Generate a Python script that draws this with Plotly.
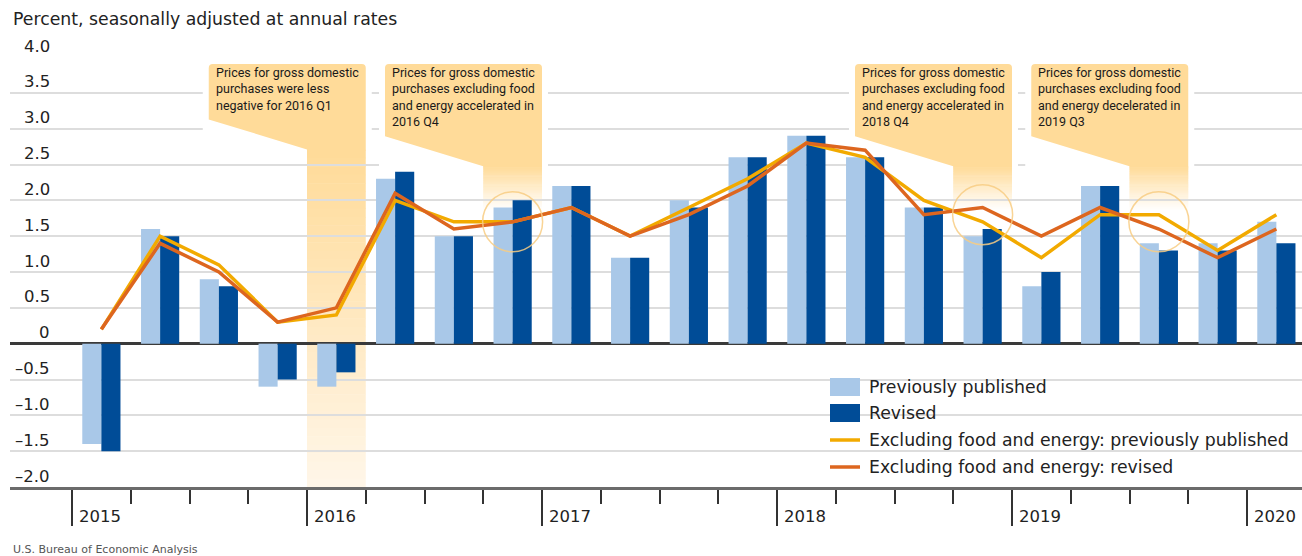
import plotly.graph_objects as go

# ---- data -------------------------------------------------------------
quarters = ["2015 Q1", "2015 Q2", "2015 Q3", "2015 Q4",
            "2016 Q1", "2016 Q2", "2016 Q3", "2016 Q4",
            "2017 Q1", "2017 Q2", "2017 Q3", "2017 Q4",
            "2018 Q1", "2018 Q2", "2018 Q3", "2018 Q4",
            "2019 Q1", "2019 Q2", "2019 Q3", "2019 Q4",
            "2020 Q1"]
years = ["2015", "2016", "2017", "2018", "2019", "2020"]

previously_published = [-1.4, 1.6, 0.9, -0.6, -0.6, 2.3, 1.5, 1.9, 2.2, 1.2, 2.0,
                        2.6, 2.9, 2.6, 1.9, 1.5, 0.8, 2.2, 1.4, 1.4, 1.7]
revised = [-1.5, 1.5, 0.8, -0.5, -0.4, 2.4, 1.5, 2.0, 2.2, 1.2, 1.9,
           2.6, 2.9, 2.6, 1.9, 1.6, 1.0, 2.2, 1.3, 1.3, 1.4]
core_previously_published = [0.2, 1.5, 1.1, 0.3, 0.4, 2.0, 1.7, 1.7, 1.9, 1.5, 1.9,
                             2.3, 2.8, 2.6, 2.0, 1.7, 1.2, 1.8, 1.8, 1.3, 1.8]
core_revised = [0.2, 1.4, 1.0, 0.3, 0.5, 2.1, 1.6, 1.7, 1.9, 1.5, 1.8,
                2.2, 2.8, 2.7, 1.8, 1.9, 1.5, 1.9, 1.6, 1.2, 1.6]

y_ticks = [4.0, 3.5, 3.0, 2.5, 2.0, 1.5, 1.0, 0.5, 0.0, -0.5, -1.0, -1.5, -2.0]

callout_quarters = ["2016 Q1", "2016 Q4", "2018 Q4", "2019 Q3"]
callout_texts = [
    "Prices for gross domestic<br>purchases were less<br>negative for 2016 Q1",
    "Prices for gross domestic<br>purchases excluding food<br>and energy accelerated in<br>2016 Q4",
    "Prices for gross domestic<br>purchases excluding food<br>and energy accelerated in<br>2018 Q4",
    "Prices for gross domestic<br>purchases excluding food<br>and energy decelerated in<br>2019 Q3",
]

# ---- styling ------------------------------------------------------------
W, H = 1302, 556
PLOT_L, PLOT_R, PLOT_T, PLOT_B = 10, 1302, 57, 487
Y_MIN, Y_MAX = -2.0, 4.0
SLOT_PX = 58.75          # width of one quarter on the axis
FIRST_SLOT_PX = 72       # left edge of the first quarter
PX_PER_UNIT = (PLOT_B - PLOT_T) / (Y_MAX - Y_MIN)

LIGHT_BLUE = "#A9C8E8"
DARK_BLUE = "#004C97"
GOLD = "#F2AA00"
ORANGE = "#DD661F"
PEACH = (255, 219, 153)
TEXT = "#222222"
FONT = "DejaVu Sans"
NOTE_FONT = "Roboto"

x_lo = (PLOT_L - FIRST_SLOT_PX) / SLOT_PX - 0.5
x_hi = (PLOT_R - FIRST_SLOT_PX) / SLOT_PX - 0.5


def px_x(x):
    return (x - PLOT_L) / (PLOT_R - PLOT_L)


def px_y(y):
    return (PLOT_B - y) / (PLOT_B - PLOT_T)


def dx(p):          # pixels -> quarter units
    return p / SLOT_PX


def dy(p):          # pixels -> percent units
    return p / PX_PER_UNIT


pos = list(range(len(quarters)))
year_edges = [4 * j - 0.5 for j in range(len(years))]
quarter_edges = [k + 0.5 for k in range(len(quarters) - 1) if (k + 0.5) not in year_edges]

fig = go.Figure()
fig.add_trace(go.Bar(x=pos, y=previously_published, name="Previously published",
                     marker=dict(color=LIGHT_BLUE, line=dict(width=0))))
fig.add_trace(go.Bar(x=pos, y=revised, name="Revised",
                     marker=dict(color=DARK_BLUE, line=dict(width=0))))
fig.add_trace(go.Scatter(x=pos, y=core_previously_published, mode="lines",
                         name="Excluding food and energy: previously published",
                         line=dict(color=GOLD, width=3.5)))
fig.add_trace(go.Scatter(x=pos, y=core_revised, mode="lines",
                         name="Excluding food and energy: revised",
                         line=dict(color=ORANGE, width=3.5)))

shapes = []
annotations = []

# ---- callouts: box + tail + fading band + circle --------------------------
box_w = dx(157)
box_top = Y_MAX - dy(7)
r_x, r_y = dx(4), dy(4)
for k, (q, txt) in enumerate(zip(callout_quarters, callout_texts)):
    i = quarters.index(q)
    band_l, band_r = i - 0.5, i + 0.5
    box_l = band_r - box_w
    n_lines = txt.count("<br>") + 1
    box_bot = box_top - dy(6 + 16.8 * n_lines + 3)
    corner = box_bot - dy(26)

    # white padding that interrupts the gridlines around the box
    shapes.append(dict(type="rect", xref="x", yref="y", layer="between",
                       x0=box_l - dx(6), x1=band_r + dx(6),
                       y0=corner, y1=Y_MAX - dy(2),
                       fillcolor="white", line=dict(width=0)))
    path = (f"M {box_l},{box_top - r_y} Q {box_l},{box_top} {box_l + r_x},{box_top} "
            f"L {band_r - r_x},{box_top} Q {band_r},{box_top} {band_r},{box_top - r_y} "
            f"L {band_r},{corner - dy(1)} L {band_l},{corner - dy(1)} "
            f"L {band_l},{corner} L {box_l},{box_bot + r_y} Z")
    shapes.append(dict(type="path", path=path, xref="x", yref="y", layer="between",
                       fillcolor="rgb(%d,%d,%d)" % PEACH, line=dict(width=0)))

    # fading band below the tail
    if k == 0:
        fade_to, end_col = Y_MIN, (255, 246, 232)
    else:
        fade_to, end_col = 1.85, (255, 255, 255)
    steps = 40
    for s in range(steps):
        t = s / (steps - 1)
        col = tuple(round(PEACH[c] + (end_col[c] - PEACH[c]) * t) for c in range(3))
        y1 = corner - (corner - fade_to) * s / steps
        y0 = corner - (corner - fade_to) * (s + 1) / steps - dy(0.5)
        shapes.append(dict(type="rect", xref="x", yref="y", layer="below",
                           x0=band_l, x1=band_r, y0=max(y0, fade_to), y1=y1,
                           fillcolor="rgb(%d,%d,%d)" % col, line=dict(width=0)))

    annotations.append(dict(x=box_l + dx(5), y=box_top, xref="x", yref="y",
                            xanchor="left", yanchor="top", yshift=1,
                            text=txt, showarrow=False, align="left",
                            font=dict(family=NOTE_FONT, size=12.5, color="#1a1a1a")))

    if k > 0:
        cy = (core_previously_published[i] + core_revised[i]) / 2
        shapes.append(dict(type="circle", xref="x", yref="y", layer="above",
                           xsizemode="pixel", ysizemode="pixel",
                           xanchor=i, yanchor=cy, x0=-30, x1=30, y0=-30, y1=30,
                           line=dict(color="rgba(248,205,130,0.85)", width=1.5)))

# ---- y tick labels (above each gridline) ----------------------------------
for v in y_ticks:
    lab = "0" if v == 0 else f"{v:.1f}".replace("-", "\u2013")
    annotations.append(dict(x=px_x(52), y=v, xref="paper", yref="y",
                            xanchor="right", yanchor="middle", yshift=11,
                            text=lab, showarrow=False,
                            font=dict(family=FONT, size=16.5, color=TEXT)))

# ---- year labels --------------------------------------------------------
for j, yr in enumerate(years):
    annotations.append(dict(x=year_edges[j], y=px_y(516), xref="x", yref="paper",
                            xanchor="left", yanchor="middle", xshift=5,
                            text=yr, showarrow=False,
                            font=dict(family=FONT, size=16.5, color=TEXT)))

# ---- title and source -----------------------------------------------------
annotations.append(dict(x=px_x(11), y=px_y(19), xref="paper", yref="paper",
                        xanchor="left", yanchor="middle",
                        text="Percent, seasonally adjusted at annual rates",
                        showarrow=False, font=dict(family=FONT, size=17.3, color=TEXT)))
annotations.append(dict(x=px_x(11), y=px_y(549), xref="paper", yref="paper",
                        xanchor="left", yanchor="middle",
                        text="U.S. Bureau of Economic Analysis",
                        showarrow=False, font=dict(family=FONT, size=11, color="#555555")))

# ---- legend ---------------------------------------------------------------
shapes.append(dict(type="rect", xref="paper", yref="paper", layer="between",
                   x0=px_x(812), x1=px_x(1302), y0=px_y(482), y1=px_y(367),
                   fillcolor="white", line=dict(width=0)))
legend_items = [
    ("Previously published", "box", LIGHT_BLUE, 387),
    ("Revised", "box", DARK_BLUE, 413),
    ("Excluding food and energy: previously published", "line", GOLD, 440),
    ("Excluding food and energy: revised", "line", ORANGE, 467),
]
for name, kind, col, yc in legend_items:
    if kind == "box":
        shapes.append(dict(type="rect", xref="paper", yref="paper", layer="above",
                           x0=px_x(830), x1=px_x(860), y0=px_y(yc + 9), y1=px_y(yc - 9),
                           fillcolor=col, line=dict(width=0)))
    else:
        shapes.append(dict(type="line", xref="paper", yref="paper", layer="above",
                           x0=px_x(830), x1=px_x(860), y0=px_y(yc), y1=px_y(yc),
                           line=dict(color=col, width=3.5)))
    annotations.append(dict(x=px_x(867), y=px_y(yc), xref="paper", yref="paper",
                            xanchor="left", yanchor="middle", text=name,
                            showarrow=False, font=dict(family=FONT, size=17.3, color=TEXT)))

fig.update_layout(
    width=W, height=H,
    margin=dict(l=PLOT_L, r=W - PLOT_R, t=PLOT_T, b=H - PLOT_B),
    plot_bgcolor="white", paper_bgcolor="white",
    showlegend=False,
    barmode="group", bargap=0.35, bargroupgap=0,
    shapes=shapes, annotations=annotations,
    xaxis=dict(range=[x_lo, x_hi], showgrid=False, zeroline=False,
               showline=True, linecolor="#6b6b6b", linewidth=2.5,
               ticks="outside", tickmode="array", tickvals=year_edges,
               ticklen=36, tickwidth=1.5, tickcolor="#333333",
               showticklabels=False,
               minor=dict(ticks="outside", tickmode="array", tickvals=quarter_edges,
                          ticklen=14, tickwidth=1.5, tickcolor="#333333")),
    yaxis=dict(range=[Y_MIN, Y_MAX], tickmode="array", tickvals=y_ticks,
               showgrid=True, gridcolor="#DDDDDD", gridwidth=2,
               zeroline=True, zerolinecolor="#3a3a3a", zerolinewidth=2.5,
               showticklabels=False, ticks="", showline=False),
)

fig.write_html("out.html")
